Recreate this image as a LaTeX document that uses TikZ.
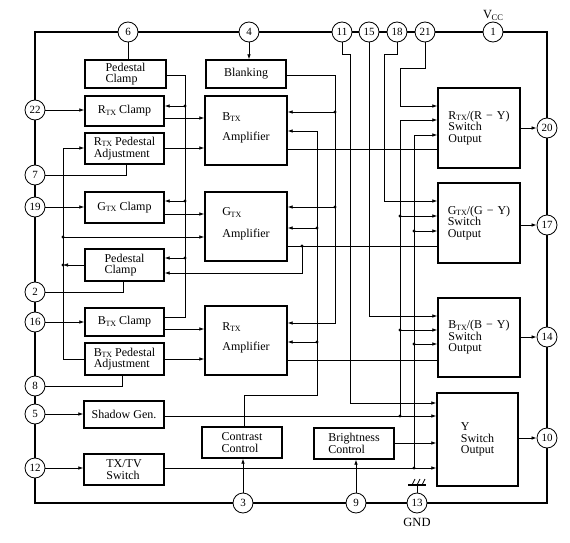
\documentclass[tikz,border=0pt]{standalone}
\usepackage{fontspec}
\setmainfont{Liberation Serif}
\usetikzlibrary{arrows.meta}
\newcommand{\txsub}{\kern-0.3pt\raisebox{-1.2pt}{\fontsize{8}{8}\selectfont TX}}
\begin{document}
\begin{tikzpicture}[x=1pt,y=-1pt,
  blk/.style={draw, line width=1.4pt, inner sep=0pt, align=left, font=\fontsize{12}{11.5}\selectfont},
  pin/.style={circle, draw, fill=white, line width=0.8pt, minimum size=20pt, inner sep=0pt, font=\fontsize{11}{11}\selectfont},
  wire/.style={line width=0.75pt},
  arr/.style={wire, -{Latex[length=5pt,width=3.6pt]}},
  lbl/.style={inner sep=0pt, font=\fontsize{12.5}{12.5}\selectfont}]
\useasboundingbox (0,0) rectangle (570,543);
% level coordinates
\foreach \v in {54,68,75,106,112,118,120,131,135,148,149,201,207,214,216,228,231,237,246,258,265,273,316,317,323,329,330,342,344,359,360,395,403,416,443,468}
  \coordinate (y\v) at (0,\v);
\foreach \v in {63,122,123,126,185,244,302,317,335,350,384,400,414}
  \coordinate (x\v) at (\v,0);
% chip outline
\draw[line width=2.6pt] (35,32) rectangle (547,503);
% blocks
\node[blk, minimum width=81pt, minimum height=28pt] (ped1) at (125.5,74) {Pedestal\\Clamp};
\node[blk, minimum width=79pt, minimum height=30pt] (rclamp) at (124.5,111) {R\txsub{} Clamp};
\node[blk, minimum width=79pt, minimum height=31pt] (radj) at (124.5,148.5) {R\txsub{} Pedestal\\Adjustment};
\node[blk, minimum width=80pt, minimum height=28pt] (blank) at (246,74) {Blanking};
\node[blk, minimum width=82pt, minimum height=69pt] (bamp) at (246,130.5) {B\txsub\\[9pt]Amplifier\\[-4pt]};
\node[blk, minimum width=79pt, minimum height=31pt] (gclamp) at (124.5,207.5) {G\txsub{} Clamp};
\node[blk, minimum width=82pt, minimum height=69pt] (gamp) at (246,226.5) {G\txsub\\[10pt]Amplifier\\[-4pt]};
\node[blk, minimum width=79pt, minimum height=32pt] (ped2) at (124.5,265) {Pedestal\\Clamp};
\node[blk, minimum width=79pt, minimum height=28pt] (bclamp) at (124.5,322) {B\txsub{} Clamp};
\node[blk, minimum width=79pt, minimum height=32pt] (badj) at (124.5,359) {B\txsub{} Pedestal\\Adjustment};
\node[blk, minimum width=82pt, minimum height=69pt] (ramp) at (246,340.5) {R\txsub\\[9pt]Amplifier\\[-4pt]};
\node[blk, minimum width=80pt, minimum height=27pt] (shadow) at (124,414.5) {Shadow Gen.};
\node[blk, minimum width=80pt, minimum height=31pt] (txtv) at (124,469.5) {TX/TV\\Switch};
\node[blk, minimum width=80pt, minimum height=31pt] (contrast) at (242,442.5) {Contrast\\Control};
\node[blk, minimum width=80pt, minimum height=31pt] (bright) at (354,443.5) {Brightness\\Control};
\node[blk, minimum width=82pt, minimum height=80pt] (rsw) at (479,128) {R\txsub/(R\,\,−\,\,Y)\\Switch\\Output};
\node[blk, minimum width=82pt, minimum height=80pt] (gsw) at (479,223) {G\txsub/(G\,\,−\,\,Y)\\Switch\\Output};
\node[blk, minimum width=82pt, minimum height=79pt] (bsw) at (479,337.5) {B\txsub/(B\,\,−\,\,Y)\\Switch\\Output};
\node[blk, minimum width=81pt, minimum height=93pt] (ysw) at (477.5,439.5) {Y\\Switch\\Output};
% pins
\foreach \n/\x/\y in {6/128/32, 4/249/32, 11/342/32, 15/369/32, 18/397/32, 21/425/32, 1/493/32,
  22/35/110, 7/35/175, 19/35/207, 2/35/292, 16/35/322, 8/35/386, 5/35/414, 12/35/468,
  20/547/128, 17/547/225, 14/547/337, 10/547/438, 3/243/503, 9/356/503, 13/417/503}
  \node[pin] (p\n) at (\x,\y) {\n};
\node[lbl] (vcc) at (493,15) {V\kern-0.5pt\raisebox{-2pt}{\fontsize{8.5}{8.5}\selectfont CC}};
\node[lbl] (gndlbl) at (417,522) {GND};
% pin connections
\draw[wire] (p6.south) -- (p6.south |- ped1.north);
\draw[arr] (p4.south) -- (p4.south |- blank.north);
\draw[arr] (p22.east) -- (p22.east -| rclamp.west);
\draw[wire] (p7.east) -- (x126 |- p7.east) -- (x126 |- radj.south);
\draw[arr] (p19.east) -- (p19.east -| gclamp.west);
\draw[wire] (p2.east) -- (x123 |- p2.east) -- (x123 |- ped2.south);
\draw[arr] (p16.east) -- (p16.east -| bclamp.west);
\draw[wire] (p8.east) -- (x122 |- p8.east) -- (x122 |- badj.south);
\draw[arr] (p5.east) -- (p5.east -| shadow.west);
\draw[arr] (p12.east) -- (p12.east -| txtv.west);
\draw[arr] (p3.north) -- (p3.north |- contrast.south);
\draw[arr] (p9.north) -- (p9.north |- bright.south);
% clamp bus
\draw[wire] (ped1.east |- y75) -- (x185 |- y75) -- (x185 |- y317) -- (bclamp.east |- y317);
\draw[arr] (x185 |- y106) -- (rclamp.east |- y106);
\draw[arr] (x185 |- y201) -- (gclamp.east |- y201);
\draw[arr] (x185 |- y258) -- (ped2.east |- y258);
% into amplifiers from the left
\draw[arr] (rclamp.east |- y118) -- (bamp.west |- y118);
\draw[arr] (radj.east |- y148) -- (bamp.west |- y148);
\draw[arr] (gclamp.east |- y214) -- (gamp.west |- y214);
\draw[arr] (bclamp.east |- y329) -- (ramp.west |- y329);
\draw[arr] (badj.east |- y359) -- (ramp.west |- y359);
% pedestal clamp 2 bus
\draw[arr] (ped2.west |- y265) -- (x63 |- y265);
\draw[arr] (x63 |- y265) -- (x63 |- y148) -- (radj.west |- y148);
\draw[wire] (x63 |- y265) -- (x63 |- y359) -- (badj.west |- y359);
\draw[arr] (x63 |- y237) -- (gamp.west |- y237);
% amplifier outputs
\draw[wire] (bamp.east |- y149) -- (rsw.west |- y149);
\draw[wire] (gamp.east |- y246) -- (gsw.west |- y246);
\draw[wire] (ramp.east |- y360) -- (bsw.west |- y360);
\draw[arr] (x302 |- y246) -- (x302 |- y273) -- (ped2.east |- y273);
% blanking bus
\draw[arr] (blank.east |- y75) -- (x335 |- y75) -- (x335 |- y323) -- (ramp.east |- y323);
\draw[arr] (x335 |- y112) -- (bamp.east |- y112);
\draw[arr] (x335 |- y207) -- (gamp.east |- y207);
% contrast bus
\draw[arr] (contrast.north -| x244) -- (x244 |- y395) -- (x317 |- y395) -- (x317 |- y131) -- (bamp.east |- y131);
\draw[arr] (x317 |- y228) -- (gamp.east |- y228);
\draw[arr] (x317 |- y342) -- (ramp.east |- y342);
% top pins to switches
\draw[arr] (p11.south) -- (p11.south |- y54) -- (x350 |- y54) -- (x350 |- y403) -- (ysw.west |- y403);
\draw[arr] (p15.south) -- (p15.south |- y316) -- (bsw.west |- y316);
\draw[arr] (p18.south) -- (p18.south |- y54) -- (x384 |- y54) -- (x384 |- y201) -- (gsw.west |- y201);
\draw[arr] (p21.south) -- (p21.south |- y68) -- (x400 |- y68) -- (x400 |- y106) -- (rsw.west |- y106);
% shadow bus
\draw[arr] (shadow.east |- y416) -- (ysw.west |- y416);
\draw[arr] (x400 |- y416) -- (x400 |- y120) -- (rsw.west |- y120);
\draw[arr] (x400 |- y216) -- (gsw.west |- y216);
\draw[arr] (x400 |- y330) -- (bsw.west |- y330);
% tx/tv bus
\draw[arr] (txtv.east |- y468) -- (ysw.west |- y468);
\draw[arr] (x414 |- y468) -- (x414 |- y135) -- (rsw.west |- y135);
\draw[arr] (x414 |- y231) -- (gsw.west |- y231);
\draw[arr] (x414 |- y344) -- (bsw.west |- y344);
\draw[arr] (bright.east |- y443) -- (ysw.west |- y443);
% outputs
\draw[arr] (rsw.east |- p20) -- (p20.west);
\draw[arr] (gsw.east |- p17) -- (p17.west);
\draw[arr] (bsw.east |- p14) -- (p14.west);
\draw[arr] (ysw.east |- p10) -- (p10.west);
% junction dots
\foreach \c in {x185 |- y106, x185 |- y201, x185 |- y258, x63 |- y265, x63 |- y237, x302 |- y246,
  x335 |- y112, x335 |- y207, x317 |- y228, x317 |- y342, x400 |- y216, x400 |- y330, x400 |- y416,
  x414 |- y231, x414 |- y344, x414 |- y468}
  \fill (\c) circle (1.6pt);
% ground
\coordinate (gnd) at (417,485);
\draw[wire] (p13.north) -- (gnd);
\draw[line width=1.8pt] ([xshift=-9pt]gnd) -- ([xshift=9pt]gnd);
\foreach \dx in {-5,0,5}
  \draw[wire] ([xshift=\dx pt]gnd) -- ([xshift=\dx pt+3pt, yshift=6pt]gnd);
\end{tikzpicture}
\end{document}
